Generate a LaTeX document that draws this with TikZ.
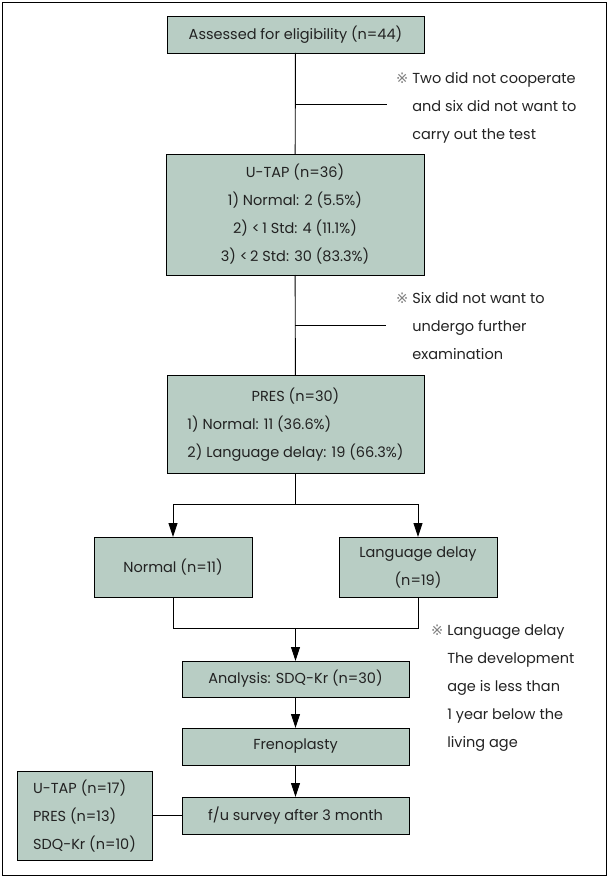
\documentclass[tikz,border=0pt]{standalone}
\usepackage{fontspec}
\setmainfont{Poppins}
\newfontfamily\markfont{DejaVu Sans}
\usepackage{xcolor}
\usetikzlibrary{arrows.meta, positioning, calc}

\definecolor{boxfill}{HTML}{B8CDC4}
\definecolor{inktext}{HTML}{222222}
\newcommand{\refmark}{{\markfont\color{black!50}※}}

\begin{document}
\begin{tikzpicture}[
    x=1pt, y=-1pt,
    font=\fontsize{14.5}{28}\selectfont\color{inktext},
    % Estilo base para las cajas del diagrama
    box/.style={
        rectangle,
        draw=black,
        line width=0.9pt,
        fill=boxfill,
        align=center,
        inner sep=2pt,
        outer sep=0pt
    },
    % Lineas y flechas
    link/.style={draw=black, line width=0.9pt},
    arr/.style={link, -{Triangle[length=14pt, width=9pt]}},
    % Notas al margen
    note/.style={anchor=north west, inner sep=0pt, align=left}
]

    % --- MARCO ---
    \useasboundingbox (0,0) rectangle (609,877);
    \draw[line width=0.9pt] (2,2) rectangle (606,875);

    % --- CAJAS PRINCIPALES ---
    \node[box, minimum width=257pt, minimum height=37pt] (assess) at (295.5,34.5) {Assessed for eligibility (n=44)};

    \node[box, minimum width=258pt, minimum height=121pt] (utap) at (295,214.5) {U-TAP (n=36)\\1) Normal: 2 (5.5\%)\\2) <\,1 Std: 4 (11.1\%)\\3) <\,2 Std: 30 (83.3\%)};

    \node[box, minimum width=257pt, minimum height=98pt] (pres) at (295.5,424) {%
        \begin{tabular}{@{}l@{}}
        \multicolumn{1}{c}{PRES (n=30)}\\
        1) Normal: 11 (36.6\%)\\
        2) Language delay: 19 (66.3\%)
        \end{tabular}};

    % --- RAMAS ---
    \node[box, minimum width=158pt, minimum height=60pt] (normal) at (173,567) {Normal (n=11)};
    \node[box, minimum width=158pt, minimum height=60pt] (lang) at (418,567) {Language delay\\(n=19)};

    % --- ANALISIS Y SEGUIMIENTO ---
    \node[box, minimum width=227pt, minimum height=36pt] (analysis) at (295.5,679) {Analysis: SDQ-Kr (n=30)};
    \node[box, minimum width=227pt, minimum height=37pt] (freno) at (295.5,746.5) {Frenoplasty};
    \node[box, minimum width=227pt, minimum height=37pt] (fu) at (295.5,815.5) {f/u survey after 3 month};
    \node[box, minimum width=135pt, minimum height=89pt] (post) at (84.5,815.5) {%
        \begin{tabular}{@{}l@{}}
        U-TAP (n=17)\\
        PRES (n=13)\\
        SDQ-Kr (n=10)
        \end{tabular}};

    % --- NOTAS ---
    \node[note] (note1) at (396,64) {\begin{tabular}{@{}l@{\hspace{4pt}}l@{}}\refmark & Two did not cooperate\\ & and six did not want to\\ & carry out the test\end{tabular}};
    \node[note] (note2) at (396,284) {\begin{tabular}{@{}l@{\hspace{4pt}}l@{}}\refmark & Six did not want to\\ & undergo further\\ & examination\end{tabular}};
    \node[note] (note3) at (431,616) {\begin{tabular}{@{}l@{\hspace{4pt}}l@{}}\refmark & Language delay\\ & The development\\ & age is less than\\ & 1 year below the\\ & living age\end{tabular}};

    % --- CONECTORES ---
    \coordinate (drop1) at (387,104);
    \coordinate (drop2) at (386,325);
    \coordinate (split) at (295.5,504);
    \coordinate (join) at (295.5,628);

    \draw[link] (assess) -- (utap);
    \draw[link] (assess.south |- drop1) -- (drop1);
    \draw[link] (utap) -- (pres);
    \draw[link] (utap.south |- drop2) -- (drop2);

    \draw[link] (pres) -- (split);
    \draw[arr] (split) -| (normal);
    \draw[arr] (split) -| (lang);

    \draw[link] (normal) |- (join);
    \draw[link] (lang) |- (join);
    \draw[arr] (join) -- (analysis);
    \draw[arr] (analysis) -- (freno);
    \draw[arr] (freno) -- (fu);
    \draw[link] (post) -- (fu);

\end{tikzpicture}
\end{document}
